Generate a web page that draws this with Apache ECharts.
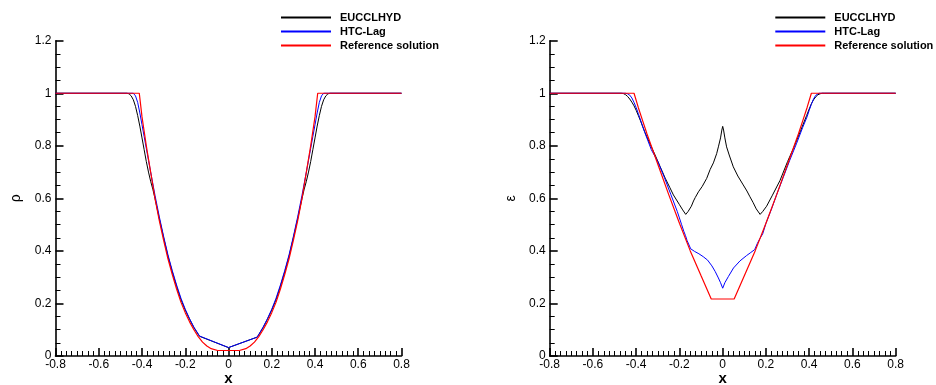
<!DOCTYPE html>
<html>
<head>
<meta charset="utf-8">
<script src="https://cdn.jsdelivr.net/npm/echarts@6/dist/echarts.min.js"></script>
<style>html,body{margin:0;padding:0;background:#fff}#c{width:936px;height:385px}</style>
</head>
<body>
<div id="c"></div>
<script>
// ---------- Data ----------
const seriesNames = ['EUCCLHYD', 'HTC-Lag', 'Reference solution'];
const xAxisName = 'x';
const yAxisNames = ['ρ', 'ε'];

// Density rho: reference solution
const rhoRefX = [-0.8, -0.4125, -0.40, -0.39, -0.38, -0.36, -0.34, -0.32, -0.30, -0.28, -0.26, -0.24, -0.22, -0.20, -0.18, -0.16, -0.14, -0.12, -0.10, -0.08, -0.05,
                  0.05, 0.08, 0.10, 0.12, 0.14, 0.16, 0.18, 0.20, 0.22, 0.24, 0.26, 0.28, 0.30, 0.32, 0.34, 0.36, 0.38, 0.39, 0.40, 0.4125, 0.8];
const rhoRefY = [1, 1, 0.91, 0.855, 0.80, 0.70, 0.60, 0.515, 0.44, 0.37, 0.31, 0.255, 0.205, 0.165, 0.13, 0.10, 0.074, 0.053, 0.038, 0.028, 0.021,
                  0.021, 0.028, 0.038, 0.053, 0.074, 0.10, 0.13, 0.165, 0.205, 0.255, 0.31, 0.37, 0.44, 0.515, 0.60, 0.70, 0.80, 0.855, 0.91, 1, 1];

// Density rho: EUCCLHYD
const rhoEuX = [-0.8, -0.47, -0.46, -0.45, -0.44, -0.43, -0.42, -0.41, -0.40, -0.39, -0.38, -0.37, -0.36, -0.35, -0.34, -0.32, -0.30, -0.28, -0.26, -0.24, -0.22, -0.20, -0.18, -0.16, -0.134, 0,
                 0.133, 0.16, 0.18, 0.20, 0.22, 0.24, 0.26, 0.28, 0.30, 0.32, 0.34, 0.35, 0.36, 0.37, 0.38, 0.39, 0.40, 0.41, 0.42, 0.43, 0.44, 0.45, 0.46, 0.47, 0.8];
const rhoEuY = [1, 1, 0.998, 0.99, 0.975, 0.95, 0.915, 0.875, 0.83, 0.785, 0.74, 0.70, 0.665, 0.635, 0.60, 0.523, 0.45, 0.38, 0.32, 0.265, 0.215, 0.175, 0.14, 0.108, 0.075, 0.032,
                 0.072, 0.108, 0.14, 0.175, 0.215, 0.265, 0.32, 0.38, 0.45, 0.523, 0.60, 0.635, 0.665, 0.70, 0.74, 0.785, 0.83, 0.875, 0.915, 0.95, 0.975, 0.99, 0.998, 1, 1];

// Density rho: HTC-Lag
const rhoHtcX = [-0.8, -0.44, -0.43, -0.42, -0.41, -0.40, -0.39, -0.38, -0.37, -0.36, -0.34, -0.32, -0.30, -0.28, -0.26, -0.24, -0.22, -0.20, -0.18, -0.16, -0.134, 0,
                  0.133, 0.16, 0.18, 0.20, 0.22, 0.24, 0.26, 0.28, 0.30, 0.32, 0.34, 0.36, 0.37, 0.38, 0.39, 0.40, 0.41, 0.42, 0.43, 0.44, 0.8];
const rhoHtcY = [1, 1, 0.99, 0.965, 0.925, 0.88, 0.835, 0.79, 0.745, 0.70, 0.612, 0.53, 0.455, 0.385, 0.325, 0.27, 0.22, 0.178, 0.142, 0.11, 0.076, 0.032,
                  0.072, 0.11, 0.142, 0.178, 0.22, 0.27, 0.325, 0.385, 0.455, 0.53, 0.612, 0.70, 0.745, 0.79, 0.835, 0.88, 0.925, 0.965, 0.99, 1, 1];

// Specific internal energy eps: reference solution
const epsRefX = [-0.8, -0.41, -0.39, -0.37, -0.35, -0.30, -0.25, -0.20, -0.15, -0.10, -0.053,
                  0.053, 0.10, 0.15, 0.20, 0.25, 0.30, 0.35, 0.37, 0.39, 0.41, 0.8];
const epsRefY = [1, 1, 0.945, 0.895, 0.845, 0.73, 0.615, 0.505, 0.40, 0.305, 0.217,
                  0.217, 0.305, 0.40, 0.505, 0.615, 0.73, 0.845, 0.895, 0.945, 1, 1];

// eps: EUCCLHYD
const epsEuX = [-0.8, -0.47, -0.46, -0.45, -0.44, -0.43, -0.42, -0.41, -0.40, -0.39, -0.38, -0.37, -0.36, -0.335, -0.31, -0.29, -0.266, -0.245, -0.228, -0.20, -0.185, -0.171,
                 -0.16, -0.145, -0.135, -0.127, -0.112, -0.095, -0.074, -0.058, -0.043, -0.028, -0.02, -0.01, -0.004, 0,
                 0.004, 0.01, 0.018, 0.03, 0.049, 0.07, 0.095, 0.112, 0.126, 0.14, 0.155, 0.173,
                 0.185, 0.203, 0.23, 0.265, 0.30, 0.327, 0.36, 0.388, 0.40, 0.41, 0.42, 0.43, 0.44, 0.45, 0.46, 0.47, 0.8];
const epsEuY = [1, 1, 0.999, 0.995, 0.988, 0.978, 0.966, 0.952, 0.935, 0.915, 0.895, 0.873, 0.852, 0.805, 0.76, 0.722, 0.677, 0.642, 0.613, 0.576, 0.556, 0.539,
                 0.55, 0.57, 0.59, 0.603, 0.625, 0.645, 0.676, 0.71, 0.735, 0.77, 0.796, 0.83, 0.86, 0.874,
                 0.86, 0.83, 0.796, 0.765, 0.72, 0.685, 0.651, 0.628, 0.606, 0.585, 0.56, 0.539,
                 0.55, 0.57, 0.612, 0.668, 0.74, 0.79, 0.857, 0.915, 0.94, 0.96, 0.975, 0.986, 0.994, 0.998, 1, 1, 1];

// eps: HTC-Lag
const epsHtcX = [-0.8, -0.45, -0.44, -0.43, -0.42, -0.41, -0.40, -0.39, -0.38, -0.36, -0.33, -0.30, -0.27, -0.24, -0.21, -0.19, -0.18, -0.172, -0.165, -0.148,
                  -0.13, -0.11, -0.09, -0.07, -0.05, -0.035, -0.02, -0.01, 0, 0.01, 0.026, 0.05, 0.08, 0.11, 0.13, 0.148,
                  0.16, 0.172, 0.185, 0.20, 0.226, 0.25, 0.28, 0.31, 0.342, 0.37, 0.39, 0.40, 0.41, 0.42, 0.43, 0.445, 0.8];
const epsHtcY = [1, 1, 0.998, 0.993, 0.982, 0.965, 0.945, 0.922, 0.898, 0.85, 0.785, 0.74, 0.68, 0.615, 0.55, 0.50, 0.475, 0.458, 0.44, 0.408,
                  0.398, 0.389, 0.378, 0.365, 0.343, 0.322, 0.297, 0.279, 0.258, 0.279, 0.302, 0.335, 0.362, 0.382, 0.394, 0.405,
                  0.428, 0.447, 0.465, 0.505, 0.56, 0.615, 0.68, 0.745, 0.81, 0.87, 0.91, 0.935, 0.958, 0.978, 0.992, 1, 1];

// ---------- Chart ----------
const FONT = 'Liberation Sans, Arial, Helvetica, sans-serif';
const colors = ['#000000', '#0000ff', '#ff0000'];
const pairs = (xs, ys) => xs.map((x, i) => [x, ys[i]]);
const panels = [
  [pairs(rhoEuX, rhoEuY), pairs(rhoHtcX, rhoHtcY), pairs(rhoRefX, rhoRefY)],
  [pairs(epsEuX, epsEuY), pairs(epsHtcX, epsHtcY), pairs(epsRefX, epsRefY)]
];

const chart = echarts.init(document.getElementById('c'), null, {renderer: 'canvas'});
const axisLine = {show: true, onZero: false, lineStyle: {color: '#000', width: 1.6}};
const option = {
  animation: false,
  backgroundColor: '#fff',
  grid: [
    {left: 55.5, right: 534.5, top: 40.7, bottom: 29, outerBoundsMode: 'none', containLabel: false},
    {left: 549.7, right: 40.3, top: 40.7, bottom: 29, outerBoundsMode: 'none', containLabel: false}
  ],
  legend: [280, 774.3].map(l => ({
    left: l, top: 11, orient: 'vertical', padding: 0,
    itemWidth: 50, itemHeight: 10, itemGap: 1,
    itemStyle: {opacity: 0},
    data: seriesNames,
    selectedMode: false,
    textStyle: {fontFamily: FONT, fontWeight: 'bold', fontSize: 11, color: '#000', padding: [0, 0, 0, 4], lineHeight: 13}
  })),
  xAxis: [0, 1].map(g => ({
    type: 'value', gridIndex: g, min: -0.8, max: 0.8, interval: 0.2,
    name: xAxisName, nameLocation: 'middle', nameGap: 15, nameMoveOverlap: false,
    nameTextStyle: {fontFamily: FONT, fontWeight: 'bold', fontSize: 15, color: '#000'},
    axisLine: axisLine,
    axisTick: {show: true, inside: true, length: 8, lineStyle: {color: '#000', width: 1.6}},
    minorTick: {show: true, splitNumber: 8, length: 5, lineStyle: {color: '#000', width: 1}},
    splitLine: {show: false},
    axisLabel: {color: '#000', fontFamily: FONT, fontSize: 12, margin: 3}
  })),
  yAxis: [0, 1].map(g => ({
    type: 'value', gridIndex: g, min: 0, max: 1.2, interval: 0.2,
    name: yAxisNames[g], nameLocation: 'middle', nameGap: 32, nameRotate: 90, nameMoveOverlap: false,
    nameTextStyle: {fontFamily: FONT, fontSize: 14, color: '#000'},
    axisLine: axisLine,
    axisTick: {show: true, inside: true, length: 8, lineStyle: {color: '#000', width: 1.6}},
    minorTick: {show: true, splitNumber: 4, length: 5, lineStyle: {color: '#000', width: 1}},
    splitLine: {show: false},
    axisLabel: {color: '#000', fontFamily: FONT, fontSize: 12, margin: 4}
  })),
  series: []
};
panels.forEach((panel, g) => {
  panel.forEach((data, k) => {
    option.series.push({
      type: 'line', name: seriesNames[k], xAxisIndex: g, yAxisIndex: g,
      data: data, symbol: 'none', smooth: false,
      lineStyle: {color: colors[k], width: k === 2 ? 1.2 : 1},
      itemStyle: {color: colors[k]},
      z: 2 + k
    });
  });
});
chart.setOption(option);
</script>
</body>
</html>
